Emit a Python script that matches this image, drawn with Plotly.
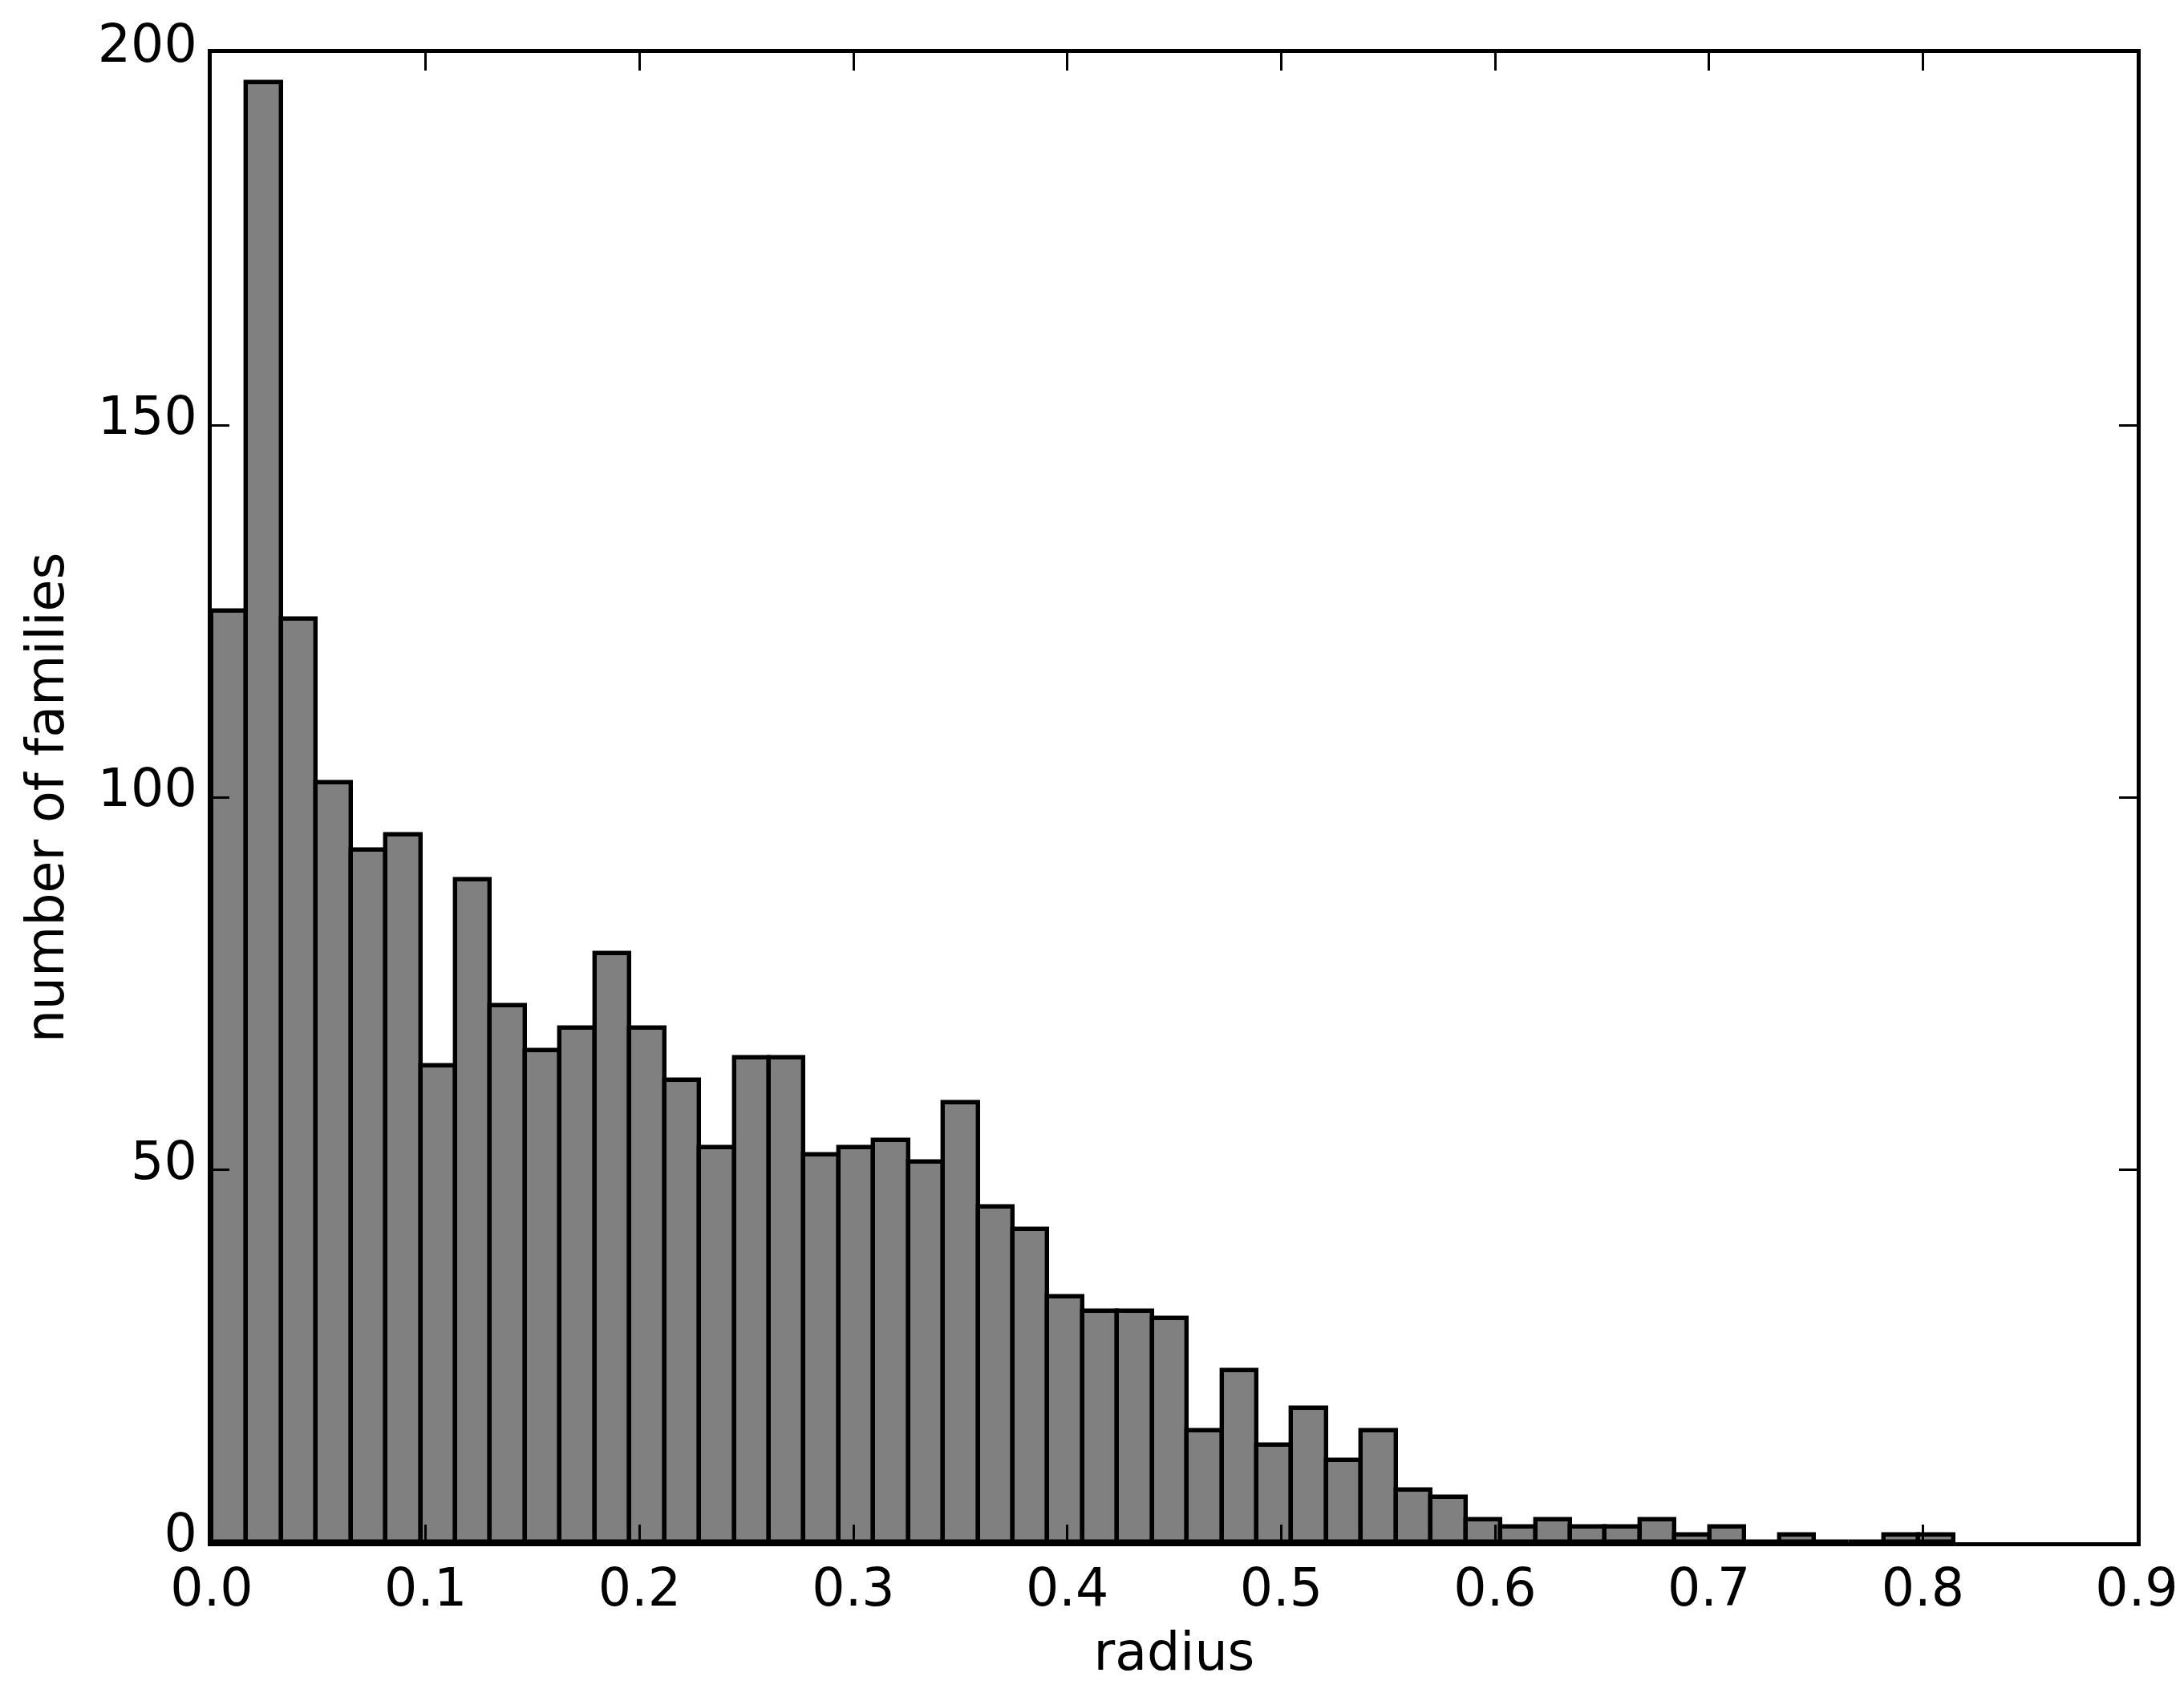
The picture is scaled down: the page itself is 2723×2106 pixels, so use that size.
import numpy as np
import plotly.graph_objects as go

# ---- data ----
counts = [125, 196, 124, 102, 93, 95, 64, 89, 72, 66,
          69, 79, 69, 62, 53, 65, 65, 52, 53, 54,
          51, 59, 45, 42, 33, 31, 31, 30, 15, 23,
          13, 18, 11, 15, 7, 6, 3, 2, 3, 2,
          2, 3, 1, 2, 0, 1, 0, 0, 1, 1]
bin_min = 0.0
bin_max = 0.8144
x_ticks = [0.0, 0.1, 0.2, 0.3, 0.4, 0.5, 0.6, 0.7, 0.8, 0.9]
y_ticks = [0, 50, 100, 150, 200]
x_label = "radius"
y_label = "number of families"

edges = np.linspace(bin_min, bin_max, len(counts) + 1)
centers = (edges[:-1] + edges[1:]) / 2
bin_width = edges[1] - edges[0]

fig = go.Figure()
fig.add_trace(go.Bar(
    x=centers,
    y=counts,
    width=bin_width,
    marker=dict(color="#808080", line=dict(color="black", width=5.4)),
    showlegend=False,
))

axis_common = dict(
    ticks="inside", ticklen=21.6, tickwidth=2.7, tickcolor="black",
    showline=True, linewidth=5.4, linecolor="black", mirror="ticks",
    showgrid=False, zeroline=False, automargin=False,
    tickfont=dict(family="DejaVu Sans", size=65, color="black"),
)

fig.update_layout(
    template="none",
    width=2723, height=2106,
    margin=dict(l=256, r=67, t=58, b=191, autoexpand=False),
    paper_bgcolor="white", plot_bgcolor="white",
    font=dict(family="DejaVu Sans", size=65, color="black"),
    bargap=0,
    xaxis=dict(range=[0, 0.9], tickvals=x_ticks,
               ticktext=[f"{v:.1f}" for v in x_ticks],
               ticklabelstandoff=-4,
               title=dict(text=x_label, standoff=22,
                          font=dict(family="DejaVu Sans", size=65)),
               **axis_common),
    yaxis=dict(range=[0, 200], tickvals=y_ticks,
               ticktext=[str(v) for v in y_ticks],
               ticklabelshift=-12,
               title=dict(text=y_label, standoff=22,
                          font=dict(family="DejaVu Sans", size=65)),
               **axis_common),
)

fig.write_html("out.html")
